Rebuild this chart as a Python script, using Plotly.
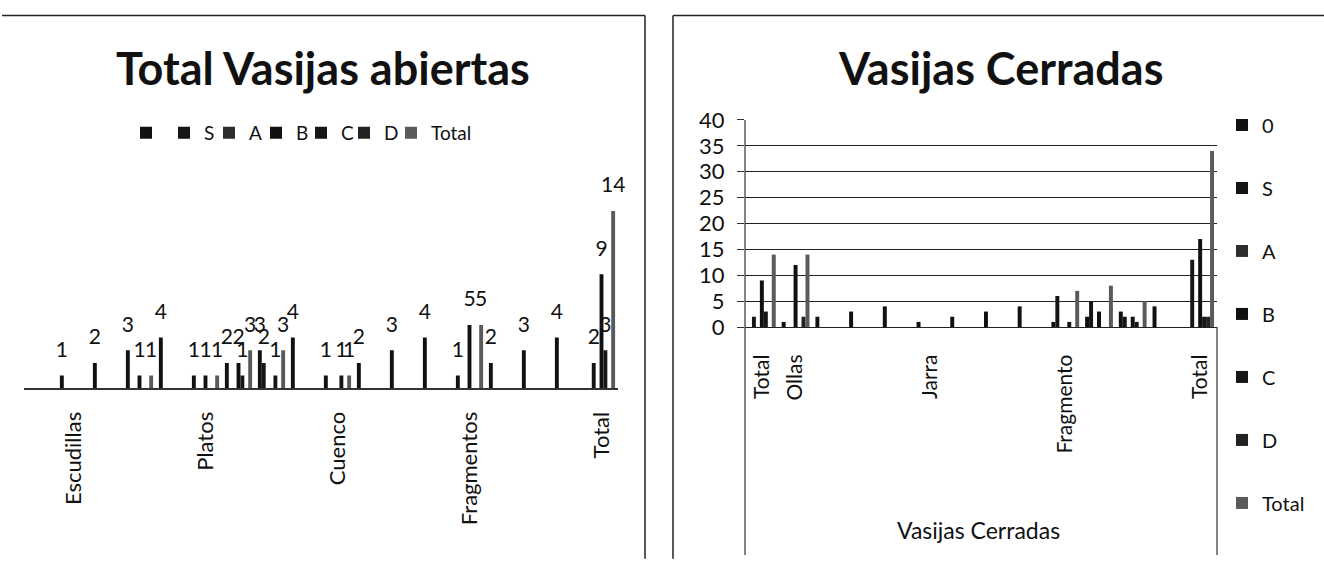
import plotly.graph_objects as go

W, H = 1324, 569
def px(x): return x / W
def py(y): return 1 - y / H

# ---------------- data: left chart (Total Vasijas abiertas) ----------------
left_title = "Total Vasijas abiertas"
left_categories = ["", "Escudillas", "", "", "", "Platos", "", "", "", "Cuenco", "", "", "",
                   "Fragmentos", "", "", "", "Total"]
series_left_names = [" ", "S", "A", "B", "C", "D", "Total"]
left_blank = [None, 1, 2, 3, 4, 1, 2, 3, 4, 1, 2, 3, 4, 1, 2, 3, 4, None]
left_S     = [None, None, None, None, None, None, None, 2, None, None, None, None, None, None, None, None, None, 2]
left_A     = [None] * 18
left_B     = [None, None, None, 1, None, 1, 2, None, None, None, None, None, None, 5, None, None, None, 9]
left_C     = [None, None, None, None, None, None, 1, 1, None, 1, None, None, None, None, None, None, None, 3]
left_D     = [None] * 18
left_Total = [None, None, None, 1, None, 1, 3, 3, None, 1, None, None, None, 5, None, None, None, 14]

# ---------------- data: right chart (Vasijas Cerradas) ----------------
right_title = "Vasijas Cerradas"
right_outer_label = "Vasijas Cerradas"
right_categories = ["Total", "Ollas", "", "", "", "Jarra", "", "", "", "Fragmento", "", "", "", "Total"]
series_right_names = ["0", "S", "A", "B", "C", "D", "Total"]
right_0     = [None, 1, 2, 3, 4, 1, 2, 3, 4, 1, 2, 3, 4, None]
right_S     = [2, None, None, None, None, None, None, None, None, 6, 5, 2, None, 13]
right_A     = [None] * 14
right_B     = [9, 12, None, None, None, None, None, None, None, None, 3, 2, None, 17]
right_C     = [3, None, None, None, None, None, None, None, None, 1, None, 1, None, 2]
right_D     = [None, 2, None, None, None, None, None, None, None, None, None, None, None, 2]
right_Total = [14, 14, None, None, None, None, None, None, None, 7, 8, 5, None, 34]
right_yticks = [0, 5, 10, 15, 20, 25, 30, 35, 40]

# ---------------- styles ----------------
series_colors = ["#111111", "#151515", "#2e2e2e", "#111111", "#161616", "#222222", "#5a5a5a"]
FONT = "Lato, Carlito, Calibri, sans-serif"
LABEL_LIFT = 1.15          # gap between bar top and its data label, in axis units
left_legend_x = [126, 164, 209, 256, 301, 344, 391]   # left edge of each legend entry (px)
left_legend_names = ["legend", "legend3", "legend4", "legend5", "legend6", "legend7", "legend8"]

fig = go.Figure()

left_values = [left_blank, left_S, left_A, left_B, left_C, left_D, left_Total]
xl = list(range(len(left_categories)))
for i, (name, vals, col) in enumerate(zip(series_left_names, left_values, series_colors)):
    fig.add_trace(go.Bar(
        x=xl, y=vals, name=name, offsetgroup="L%d" % i,
        marker=dict(color=col, line=dict(width=0)),
        xaxis="x", yaxis="y", legend=left_legend_names[i], hoverinfo="skip"))
    # data labels, lifted a little above each bar (as in the original)
    fig.add_trace(go.Bar(
        x=xl, y=[(LABEL_LIFT if v is not None else None) for v in vals],
        base=[(v if v is not None else 0) for v in vals], offsetgroup="L%d" % i,
        marker=dict(color="rgba(0,0,0,0)", line=dict(width=0)),
        text=[("" if v is None else str(v)) for v in vals],
        textposition="outside", constraintext="none", cliponaxis=False,
        textfont=dict(family=FONT, size=21, color="#111"),
        xaxis="x", yaxis="y", showlegend=False, hoverinfo="skip"))

right_values = [right_0, right_S, right_A, right_B, right_C, right_D, right_Total]
xr = list(range(len(right_categories)))
for i, (name, vals, col) in enumerate(zip(series_right_names, right_values, series_colors)):
    fig.add_trace(go.Bar(
        x=xr, y=vals, name=name, offsetgroup="R%d" % i,
        marker=dict(color=col, line=dict(width=0)),
        xaxis="x2", yaxis="y2", legend="legend2", legendgroup="r%d" % i,
        hoverinfo="skip"))

shapes = []
line = dict(color="#222", width=1.5)
# left frame (top and right edges)
shapes.append(dict(type="line", xref="paper", yref="paper", x0=px(2), x1=px(645), y0=py(1.5), y1=py(1.5), line=line))
shapes.append(dict(type="line", xref="paper", yref="paper", x0=px(645), x1=px(645), y0=py(1.5), y1=py(572), line=line))
# right frame (left and top edges)
shapes.append(dict(type="line", xref="paper", yref="paper", x0=px(673), x1=px(1330), y0=py(1.5), y1=py(1.5), line=line))
shapes.append(dict(type="line", xref="paper", yref="paper", x0=px(673), x1=px(673), y0=py(1.5), y1=py(572), line=line))
# right chart category-axis box lines
thin = dict(color="#333", width=1.2)
shapes.append(dict(type="line", xref="paper", yref="paper", x0=px(745), x1=px(745), y0=py(111.2), y1=py(568), line=thin))
shapes.append(dict(type="line", xref="paper", yref="paper", x0=px(1217), x1=px(1217), y0=py(328.7), y1=py(568), line=thin))

annotations = [
    dict(text="<b>%s</b>" % left_title, xref="paper", yref="paper", x=px(323), y=py(56.5),
         xanchor="center", yanchor="middle", showarrow=False,
         font=dict(family=FONT, size=45, color="#111")),
    dict(text="<b>%s</b>" % right_title, xref="paper", yref="paper", x=px(1000), y=py(56.5),
         xanchor="center", yanchor="middle", showarrow=False,
         font=dict(family=FONT, size=45, color="#111")),
    dict(text=right_outer_label, xref="paper", yref="paper", x=px(978), y=py(542),
         xanchor="center", yanchor="middle", showarrow=False,
         font=dict(family=FONT, size=23, color="#111")),
]

tick_left = [i for i, c in enumerate(left_categories) if c]
tick_right = [i for i, c in enumerate(right_categories) if c]

legends = {}
for i, lname in enumerate(left_legend_names):
    legends[lname] = dict(orientation="h", x=px(left_legend_x[i]), y=py(124.7),
                          xanchor="left", yanchor="middle",
                          font=dict(family=FONT, size=19), itemwidth=30,
                          bgcolor="rgba(0,0,0,0)")
legends["legend2"] = dict(orientation="v", x=px(1222), y=py(96), xanchor="left", yanchor="top",
                          font=dict(family=FONT, size=20), itemwidth=30, tracegroupgap=34,
                          bgcolor="rgba(0,0,0,0)", traceorder="grouped")

fig.update_layout(
    width=W, height=H, margin=dict(l=0, r=0, t=0, b=0),
    paper_bgcolor="white", plot_bgcolor="rgba(0,0,0,0)",
    font=dict(family=FONT, color="#111"),
    barmode="group", bargap=0.176, bargroupgap=0,
    xaxis=dict(domain=[px(24), px(618)], range=[-0.5, len(left_categories) - 0.5],
               tickmode="array", tickvals=tick_left, ticktext=[left_categories[i] for i in tick_left],
               tickangle=-90, tickfont=dict(family=FONT, size=22),
               showline=True, linecolor="#333", linewidth=1.5, showgrid=False, zeroline=False,
               ticks="outside", ticklen=13, tickcolor="rgba(0,0,0,0)", anchor="y"),
    yaxis=dict(domain=[py(392.9), py(180.1)], range=[0, 16], visible=False, anchor="x"),
    xaxis2=dict(domain=[px(745), px(1217)], range=[-0.5, len(right_categories) - 0.5],
                tickmode="array", tickvals=tick_right, ticktext=[right_categories[i] for i in tick_right],
                tickangle=-90, tickfont=dict(family=FONT, size=21),
                showline=False, showgrid=False, zeroline=False,
                ticks="outside", ticklen=18, tickcolor="rgba(0,0,0,0)", anchor="y2"),
    yaxis2=dict(domain=[py(328.7), py(111.2)], range=[0, 40], tickvals=right_yticks,
                tickfont=dict(family=FONT, size=22), showgrid=True, gridcolor="#222", gridwidth=1.2,
                zeroline=True, zerolinecolor="#222", zerolinewidth=1.2,
                showline=False, ticks="outside", ticklen=7, tickcolor="#333",
                ticklabelstandoff=8, anchor="x2"),
    shapes=shapes, annotations=annotations,
    **legends,
)

fig.write_html("out.html", config={"displayModeBar": False},
               post_script="document.body.style.margin='0px';")
